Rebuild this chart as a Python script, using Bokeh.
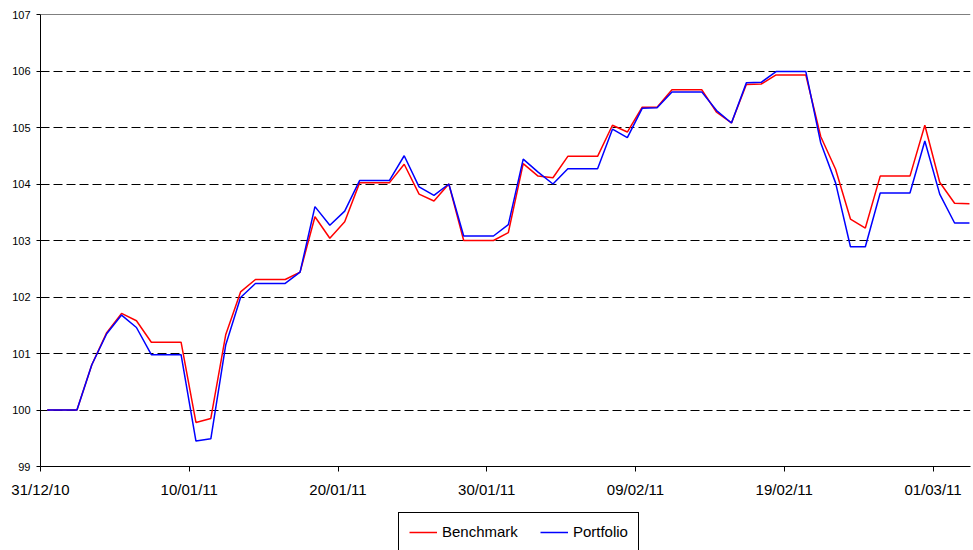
import pandas as pd
from bokeh.plotting import figure
from bokeh.layouts import column
from bokeh.models import FixedTicker, Legend, LegendItem, Span, ColumnDataSource, Range1d
from bokeh.embed import file_html
from bokeh.resources import INLINE

start_date = "2010-12-31"
n_days = 63
dates = pd.date_range(start_date, periods=n_days, freq="D")

benchmark = [
    100.00, 100.00, 100.00, 100.80, 101.37, 101.71, 101.58, 101.20, 101.20, 101.20,
    99.78, 99.85, 101.33, 102.09, 102.31, 102.31, 102.31, 102.44, 103.42, 103.04,
    103.33, 104.02, 104.02, 104.02, 104.35, 103.82, 103.70, 104.00, 103.00, 103.00,
    103.00, 103.14, 104.36, 104.14, 104.11, 104.49, 104.49, 104.49, 105.04, 104.92,
    105.36, 105.36, 105.67, 105.67, 105.67, 105.27, 105.08, 105.76, 105.77, 105.93,
    105.93, 105.93, 104.84, 104.26, 103.38, 103.22, 104.14, 104.14, 104.14, 105.04,
    104.03, 103.66, 103.65,
]
portfolio = [
    100.00, 100.00, 100.00, 100.80, 101.35, 101.68, 101.46, 100.98, 100.98, 100.98,
    99.45, 99.49, 101.15, 101.99, 102.24, 102.24, 102.24, 102.44, 103.60, 103.27,
    103.52, 104.06, 104.06, 104.06, 104.50, 103.95, 103.80, 104.00, 103.08, 103.08,
    103.08, 103.28, 104.44, 104.21, 104.00, 104.27, 104.27, 104.27, 104.97, 104.82,
    105.34, 105.35, 105.63, 105.63, 105.63, 105.30, 105.08, 105.79, 105.80, 105.99,
    105.99, 105.99, 104.73, 104.02, 102.89, 102.89, 103.84, 103.84, 103.84, 104.76,
    103.82, 103.31, 103.31,
]
series_names = ["Benchmark", "Portfolio"]
series_cols = ["bench", "port"]
series_colors = ["#FF0000", "#0000FF"]
x_tick_labels = ["31/12/10", "10/01/11", "20/01/11", "30/01/11", "09/02/11", "19/02/11", "01/03/11"]
y_ticks = [99, 100, 101, 102, 103, 104, 105, 106, 107]

t0 = dates[0]
day_pos = [(d - t0).days + 0.45 for d in dates]
tick_pos = [(pd.to_datetime(s, format="%d/%m/%y") - t0).days for s in x_tick_labels]

src = ColumnDataSource(dict(x=day_pos, bench=benchmark, port=portfolio))

FONT = "Liberation Sans"

p = figure(width=973, height=500, output_backend="svg", toolbar_location=None,
           x_range=Range1d(0, 62.52), y_range=Range1d(y_ticks[0], y_ticks[-1]),
           min_border_left=40, min_border_right=3, min_border_top=14, min_border_bottom=33)
p.outline_line_color = None
p.background_fill_color = "white"
p.border_fill_color = "white"

p.xgrid.visible = False
p.ygrid.ticker = FixedTicker(ticks=y_ticks[1:-1])
p.ygrid.grid_line_color = "black"
p.ygrid.grid_line_dash = "9 4"
p.ygrid.grid_line_width = 1

p.add_layout(Span(location=y_ticks[-1], dimension="width", line_color="black", line_width=1))

for col, c in zip(series_cols, series_colors):
    p.line("x", col, source=src, line_color=c, line_width=1.5)

p.xaxis.ticker = FixedTicker(ticks=tick_pos)
p.xaxis.major_label_overrides = {t: l for t, l in zip(tick_pos, x_tick_labels)}
p.xaxis.major_label_text_font = FONT
p.xaxis.major_label_text_font_size = "15px"
p.xaxis.major_label_text_color = "black"
p.xaxis.major_tick_out = 5
p.xaxis.major_tick_in = 0
p.xaxis.minor_tick_line_color = None
p.xaxis.major_label_standoff = 9
p.xaxis.axis_line_color = "black"
p.xaxis.major_tick_line_color = "black"

p.yaxis.ticker = FixedTicker(ticks=y_ticks)
p.yaxis.major_label_text_font = FONT
p.yaxis.major_label_text_font_size = "11px"
p.yaxis.major_label_text_color = "black"
p.yaxis.major_tick_out = 4
p.yaxis.major_tick_in = 0
p.yaxis.minor_tick_line_color = None
p.yaxis.major_label_standoff = 6
p.yaxis.axis_line_color = "black"
p.yaxis.major_tick_line_color = "black"

# legend strip below the chart (its renderers use the same data, outside this strip's ranges)
pl = figure(width=973, height=50, output_backend="svg", toolbar_location=None,
            x_axis_location=None, y_axis_location=None,
            x_range=Range1d(-10, -9), y_range=Range1d(0, 1),
            min_border_left=0, min_border_right=0, min_border_top=0, min_border_bottom=0)
pl.outline_line_color = None
pl.xgrid.visible = False
pl.ygrid.visible = False
pl.background_fill_color = "white"
pl.border_fill_color = "white"
lr = [pl.line("x", col, source=src, line_color=c, line_width=1.5)
      for col, c in zip(series_cols, series_colors)]

legend = Legend(items=[LegendItem(label=n, renderers=[r]) for n, r in zip(series_names, lr)],
                orientation="horizontal", location=(358, -1),
                label_text_font=FONT, label_text_font_size="15px",
                label_text_color="black", label_height=16,
                glyph_width=28, glyph_height=16, label_standoff=5, spacing=22,
                padding=10, margin=0, border_line_color="black", border_line_width=1,
                border_line_alpha=1.0, background_fill_alpha=1.0)
pl.add_layout(legend, "center")

layout = column(p, pl, spacing=0)
open("out.html", "w").write(file_html(layout, INLINE))
